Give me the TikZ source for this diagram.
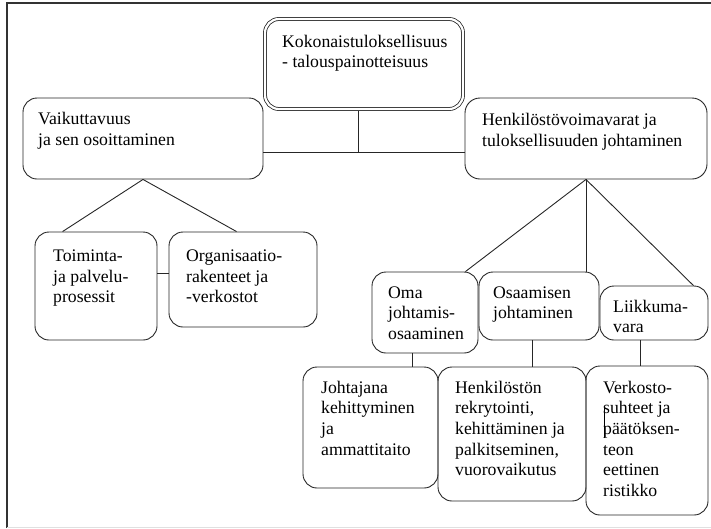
\documentclass[tikz,border=0pt]{standalone}
\usepackage{fontspec}
\setmainfont{Liberation Serif}
\newfontfamily\boxfont{Liberation Serif}
\newcommand\boxtext[1]{\parbox[t]{300pt}{\raggedright\boxfont\fontsize{17.7}{20.7}\selectfont #1}}
\tikzset{
  rbox/.style={draw=black!85, line width=0.9pt, rounded corners=14pt, inner sep=0pt},
  txt/.style={anchor=base west, inner sep=0pt, text=black},
  conn/.style={draw=black!85, line width=0.9pt},
}
\begin{document}
\begin{tikzpicture}[x=1pt, y=-1pt]
\useasboundingbox (0,0) rectangle (711,528);
% frame
\draw[black!80, line width=1.3pt] (7,528) -- (7,3) -- (711,3);
\draw[black!12, line width=0.8pt] (7,527) -- (711,527);
% boxes
\node[rbox, double, double distance=2.2pt, line width=0.8pt, minimum width=198pt, minimum height=90pt] (top) at (364,64) {};
\node[rbox, minimum width=240pt, minimum height=81pt] (vaik) at (143,138.5) {};
\node[rbox, minimum width=242pt, minimum height=81pt, rounded corners=15pt] (henk) at (586,138.5) {};
\node[rbox, minimum width=122pt, minimum height=108pt] (toim) at (96,286) {};
\node[rbox, minimum width=148pt, minimum height=95pt] (org) at (243,279.5) {};
\node[rbox, minimum width=106pt, minimum height=81pt] (oma) at (425,312.5) {};
\node[rbox, minimum width=120pt, minimum height=68pt] (osa) at (539,306) {};
\node[rbox, minimum width=108pt, minimum height=54pt] (liik) at (654,313) {};
\node[rbox, minimum width=135pt, minimum height=121pt] (joht) at (370.5,427.5) {};
\node[rbox, minimum width=148pt, minimum height=134pt] (henkr) at (512,434) {};
\node[rbox, minimum width=122pt, minimum height=149pt] (verk) at (647,440.5) {};
% texts
\node[txt] (ttop) at (282,47) {\boxtext{Kokonaistuloksellisuus\\- talouspainotteisuus}};
\node[txt] (tvaik) at (38,124.5) {\boxtext{Vaikuttavuus\\ja sen osoittaminen}};
\node[txt] (thenk) at (482,125.5) {\boxtext{Henkilöstövoimavarat ja\\tuloksellisuuden johtaminen}};
\node[txt] (ttoim) at (53,261.5) {\boxtext{Toiminta-\\ja palvelu-\\prosessit}};
\node[txt] (torg) at (186,261.5) {\boxtext{Organisaatio-\\rakenteet ja\\-verkostot}};
\node[txt] (toma) at (388,298) {\boxtext{Oma\\johtamis-\\osaaminen}};
\node[txt] (tosa) at (493,298) {\boxtext{Osaamisen\\johtaminen}};
\node[txt] (tliik) at (613,312) {\boxtext{Liikkuma-\\vara}};
\node[txt] (tjoht) at (321,393) {\boxtext{Johtajana\\kehittyminen\\ja\\ammattitaito}};
\node[txt] (thenkr) at (455,393) {\boxtext{Henkilöstön\\rekrytointi,\\kehittäminen ja\\palkitseminen,\\vuorovaikutus}};
\node[txt] (tverk) at (603,393) {\boxtext{Verkosto-\\suhteet ja\\päätöksen-\\teon\\eettinen\\ristikko}};
% junction coordinates
\coordinate (j) at (358,152);
\coordinate (j2) at (0,273);
\coordinate (c1) at (412,360);
\coordinate (c2) at (532,360);
\coordinate (c3) at (640,360);
% connectors
\draw[conn, shorten <=1.9pt] (top.south -| j) -- (j);
\draw[conn] (vaik.east |- j) -- (henk.west |- j);
\draw[conn] (vaik.south) -- ([xshift=28pt]toim.north west);
\draw[conn] (vaik.south) -- ([xshift=68pt]org.north west);
\draw[conn] (toim.east |- j2) -- (org.west |- j2);
\draw[conn] (henk.south) -- ([xshift=-13pt]oma.north east);
\draw[conn] (henk.south) -- (henk.south |- osa.north);
\draw[conn] (henk.south) -- ([xshift=-15pt]liik.north east);
\draw[conn] (oma.south -| c1) -- (joht.north -| c1);
\draw[conn] (osa.south -| c2) -- (henkr.north -| c2);
\draw[conn] (liik.south -| c3) -- (verk.north -| c3);
% stray cursor mark
\draw[black, line width=0.9pt] (604,407) -- (604,438);
\end{tikzpicture}
\end{document}
